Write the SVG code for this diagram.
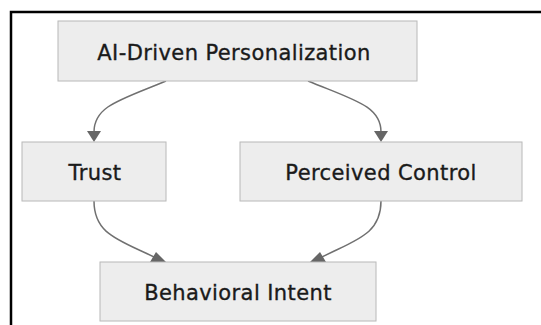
<svg xmlns="http://www.w3.org/2000/svg" width="541" height="325" viewBox="0 0 541 325">
  <defs>
    <style>
      .node rect { fill: #ededed; stroke: #b8b8b8; stroke-width: 1; }
      .node text { font-family: "DejaVu Sans", Verdana, sans-serif; font-size: 21px; letter-spacing: 0.4px; fill: #1a1a1a; stroke: #1a1a1a; stroke-width: 0.35; text-anchor: middle; }
      .edge { fill: none; stroke: #707070; stroke-width: 1.5; }
      .head { fill: #666; }
      .frame { stroke: #000; stroke-width: 2.5; fill: none; }
    </style>
  </defs>
  <rect width="541" height="325" fill="#fff"/>
  <path class="frame" d="M11,325 L11,12 L541,12"/>
  <g id="connectors">
    <path class="edge" d="M166,81 C120,100 94,106 94,132"/>
    <path class="edge" d="M308,81 C354,100 381,106 381,132"/>
    <path class="edge" d="M94,201 C94,235 120,240 156,258"/>
    <path class="edge" d="M381,201 C381,235 355,240 320,258"/>
    <path class="head" d="M87,131 L101,131 L94,142 Z"/>
    <path class="head" d="M374,131 L388,131 L381,142 Z"/>
    <path class="head" d="M150,262 L166,262 L156,252 Z"/>
    <path class="head" d="M310,262 L326,262 L320,252 Z"/>
  </g>
  <g id="node-ai" class="node">
    <rect x="58" y="21" width="359" height="60"/>
    <text x="234" y="60">AI-Driven Personalization</text>
  </g>
  <g id="node-trust" class="node">
    <rect x="22" y="142" width="144" height="59"/>
    <text x="95" y="180">Trust</text>
  </g>
  <g id="node-control" class="node">
    <rect x="240" y="142" width="282" height="59"/>
    <text x="381" y="180">Perceived Control</text>
  </g>
  <g id="node-intent" class="node">
    <rect x="100" y="262" width="276" height="59"/>
    <text x="238" y="300">Behavioral Intent</text>
  </g>
</svg>
